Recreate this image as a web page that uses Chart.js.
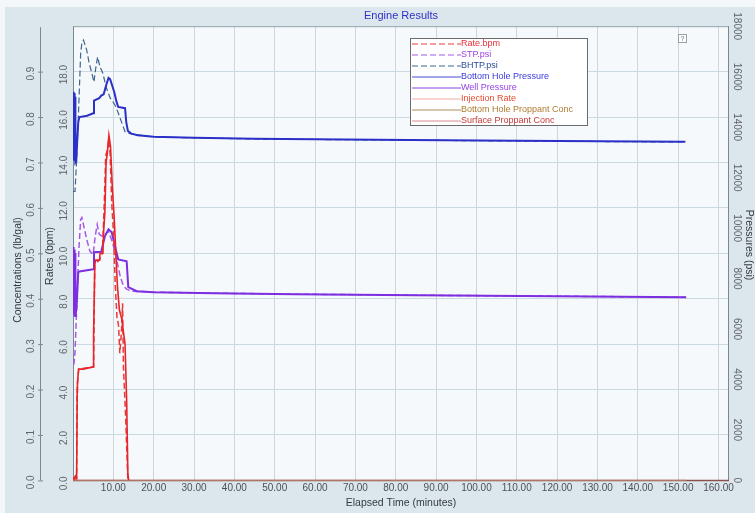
<!DOCTYPE html>
<html>
<head>
<meta charset="utf-8">
<script src="https://cdn.jsdelivr.net/npm/chart.js@4/dist/chart.umd.min.js"></script>
<style>
  html, body { margin: 0; padding: 0; background: #dce6ed; }
  #wrap { position: relative; width: 755px; height: 513px; }
</style>
</head>
<body>
<div id="wrap"><canvas id="c" width="755" height="513"></canvas></div>
<script>
// ---- Job data: elapsed time (minutes) and readings per channel ----
const rateBpmTime = [0, 0.9, 1.0, 1.2, 1.4, 5.1, 5.2, 5.4, 6.5, 7.3, 7.8, 8.1, 8.6, 8.8, 9.2, 9.6, 10.0, 10.5, 10.9, 11.3, 11.6, 12.0, 12.3, 12.5, 13.0, 13.6];
const rateBpm     = [0, 0.1, 3.9, 4.5, 4.9, 5.0, 6.5, 9.5, 9.7, 10.0, 12.5, 14.3, 14.6, 15.0, 14.4, 12.2, 11.0, 8.5, 7.2, 6.8, 5.6, 6.5, 7.8, 5.0, 3.0, 0];

const stpTime = [0, 0.25, 0.5, 0.75, 1.1, 1.5, 1.9, 2.2, 2.7, 3.4, 4.2, 5.0, 5.5, 6.0, 6.5, 7.2, 7.9, 8.8, 9.8, 10.8, 11.7, 12.5, 13.3, 14.5, 20, 35, 55, 85, 120, 151.8];
const stpPsi  = [4620, 4620, 5090, 6120, 7700, 9280, 10340, 10420, 10060, 9550, 9080, 8960, 9670, 10140, 9750, 9680, 9750, 9870, 9430, 8760, 8090, 7700, 7580, 7500, 7460, 7420, 7380, 7340, 7300, 7260];

const bhtpTime = [0, 0.5, 0.9, 1.3, 1.6, 1.9, 2.2, 2.6, 3.0, 3.4, 4.0, 4.6, 5.2, 5.6, 6.1, 6.7, 7.4, 8.2, 9.2, 10.4, 11.2, 12.1, 12.9, 14.1, 20, 45, 110, 151.8];
const bhtpPsi  = [11450, 11450, 12700, 14290, 15590, 16930, 17330, 17450, 17250, 17050, 16540, 16180, 15790, 16300, 16780, 16380, 16140, 15590, 15160, 14880, 14570, 14170, 13820, 13740, 13610, 13530, 13450, 13410];

const bhpTime = [0, 0.1, 0.2, 0.3, 0.4, 0.5, 0.6, 0.8, 1.0, 1.3, 1.6, 3.5, 5.0, 5.2, 6.5, 7.0, 7.6, 8.2, 8.8, 9.2, 9.7, 10.2, 10.8, 11.2, 12.9, 13.2, 13.6, 14.5, 16, 20, 30, 45, 75, 110, 151.8];
const bhpPsi  = [13800, 15400, 12700, 15350, 12650, 15200, 12600, 12650, 13300, 14200, 14400, 14450, 14550, 15050, 15150, 15250, 15300, 15650, 15950, 15900, 15650, 15400, 15000, 14800, 14750, 14200, 13850, 13740, 13680, 13620, 13580, 13540, 13500, 13460, 13420];

const wellTime = [0, 0.1, 0.2, 0.3, 0.4, 0.5, 0.6, 0.9, 1.3, 1.6, 5.0, 5.2, 7.0, 7.9, 8.8, 9.6, 10.4, 11.2, 13.3, 13.7, 15.8, 20, 35, 55, 85, 120, 152];
const wellPsi  = [7000, 9250, 6600, 9150, 6500, 9000, 6480, 6900, 8250, 8280, 8370, 9040, 9060, 9670, 9950, 9830, 9280, 8760, 8680, 7660, 7500, 7460, 7420, 7380, 7340, 7300, 7260];

const injTime = [0, 0.3, 0.6, 0.9, 1.05, 1.1, 1.4, 2.5, 5.0, 5.1, 5.4, 5.6, 6.6, 6.7, 7.4, 7.6, 7.9, 8.2, 8.5, 8.9, 9.3, 9.75, 10.2, 10.7, 11.0, 11.5, 12.1, 12.6, 12.9, 13.3, 13.6, 13.8];
const injRate = [0.1, 0.1, 0.2, 0.1, 3.9, 4.3, 4.9, 4.9, 5.0, 6.4, 9.5, 9.7, 9.7, 10.0, 10.0, 11.0, 11.8, 14.0, 14.4, 15.2, 14.7, 12.9, 11.6, 9.7, 8.6, 7.5, 7.1, 6.4, 6.0, 3.5, 0.3, 0];

const bhConcTime = [0, 152];
const bhConc     = [0, 0];
const surfConcTime = [0, 152];
const surfConc     = [0, 0];

// ---- Axis tick values ----
const timeTicksMax = 162.6;
const concTicks = [0, 0.1, 0.2, 0.3, 0.4, 0.5, 0.6, 0.7, 0.8, 0.9];
const rateTicks = [0, 2, 4, 6, 8, 10, 12, 14, 16, 18];
const psiTicks  = [0, 2000, 4000, 6000, 8000, 10000, 12000, 14000, 16000, 18000];

const NARROW = "'Liberation Sans Narrow', 'Liberation Sans', Arial, sans-serif";
const SANS = "'Liberation Sans', Arial, sans-serif";

function pts(xs, ys) { return xs.map((x, i) => ({ x: x, y: ys[i] })); }

function rotText(ctx, text, x, y, ang) {
  ctx.save();
  ctx.translate(x, y);
  ctx.rotate(ang);
  ctx.textAlign = 'center';
  ctx.textBaseline = 'middle';
  ctx.fillText(text, 0, 0);
  ctx.restore();
}

// Backgrounds, borders, extra axes and the legend box
const frame = {
  id: 'frame',
  beforeDraw(chart) {
    const { ctx, chartArea: a, width, height } = chart;
    ctx.save();
    ctx.fillStyle = '#dce6ed';
    ctx.fillRect(0, 0, width, height);
    ctx.fillStyle = '#f3f7f9';
    ctx.fillRect(0, 0, width, 7);
    ctx.fillRect(0, 0, 5, height);
    ctx.fillStyle = '#f6f9fb';
    ctx.fillRect(a.left, a.top, a.right - a.left, a.bottom - a.top);
    ctx.restore();
  },
  beforeDatasetsDraw(chart) {
    const { ctx, chartArea: a } = chart;
    ctx.save();
    ctx.lineWidth = 1;
    ctx.strokeStyle = '#9ba7af';
    ctx.beginPath(); ctx.moveTo(a.left, a.top + 0.5); ctx.lineTo(a.right, a.top + 0.5); ctx.stroke();
    ctx.strokeStyle = '#7b8891';
    ctx.beginPath(); ctx.moveTo(a.left + 0.5, a.top); ctx.lineTo(a.left + 0.5, a.bottom); ctx.stroke();
    ctx.beginPath(); ctx.moveTo(a.right - 0.5, a.top); ctx.lineTo(a.right - 0.5, a.bottom); ctx.stroke();
    ctx.strokeStyle = '#8a524c';
    ctx.lineWidth = 1.5;
    ctx.beginPath(); ctx.moveTo(a.left, a.bottom); ctx.lineTo(a.right, a.bottom); ctx.stroke();
    ctx.restore();
  },
  afterDraw(chart) {
    const { ctx, chartArea: a, scales } = chart;
    ctx.save();

    // concentration axis line
    ctx.lineWidth = 1;
    ctx.strokeStyle = '#7b8891';
    ctx.beginPath(); ctx.moveTo(40.5, a.top + 1); ctx.lineTo(40.5, a.bottom); ctx.stroke();

    ctx.fillStyle = '#5f6468';
    ctx.font = '10px ' + NARROW;
    const conc = scales.conc, rate = scales.rate, psi = scales.psi;
    concTicks.forEach(v => {
      const y = conc.getPixelForValue(v);
      ctx.beginPath(); ctx.moveTo(38, y + 0.5); ctx.lineTo(43, y + 0.5); ctx.stroke();
      rotText(ctx, v.toFixed(1), 31, y + 2, -Math.PI / 2);
    });
    rateTicks.forEach(v => {
      rotText(ctx, v.toFixed(1), 64, rate.getPixelForValue(v) + 3, -Math.PI / 2);
    });
    psiTicks.forEach(v => {
      rotText(ctx, String(v), 737, psi.getPixelForValue(v), Math.PI / 2);
    });

    // axis titles
    ctx.fillStyle = '#333a40';
    ctx.font = '10.5px ' + SANS;
    rotText(ctx, 'Concentrations (lb/gal)', 18, 270, -Math.PI / 2);
    rotText(ctx, 'Rates (bpm)', 50, 256, -Math.PI / 2);
    rotText(ctx, 'Pressures (psi)', 749, 245, Math.PI / 2);

    // legend
    const lx = 410, ly = 38, lw = 177, lh = 87;
    ctx.fillStyle = '#ffffff';
    ctx.fillRect(lx, ly, lw, lh);
    ctx.strokeStyle = '#6b6b6b';
    ctx.strokeRect(lx + 0.5, ly + 0.5, lw, lh);
    ctx.font = '9px ' + SANS;
    ctx.textAlign = 'left';
    ctx.textBaseline = 'middle';
    chart.data.datasets.forEach((ds, i) => {
      const y = ly + 5.5 + i * 11;
      ctx.strokeStyle = ds.legendLine || ds.borderColor;
      ctx.lineWidth = 1;
      ctx.setLineDash(ds.borderDash || []);
      ctx.beginPath(); ctx.moveTo(lx + 2, y + 0.5); ctx.lineTo(lx + 51, y + 0.5); ctx.stroke();
      ctx.setLineDash([]);
      ctx.fillStyle = ds.legendText;
      ctx.fillText(ds.label, lx + 51, y + 0.5);
    });

    // small options button in the corner
    ctx.fillStyle = '#ffffff';
    ctx.fillRect(678, 34, 8, 8);
    ctx.strokeStyle = '#9aa0a5';
    ctx.strokeRect(678.5, 34.5, 8, 8);
    ctx.fillStyle = '#666';
    ctx.font = '7px ' + SANS;
    ctx.textAlign = 'center';
    ctx.fillText('?', 682.5, 38.8);

    ctx.restore();
  }
};

const line = (label, xs, ys, axis, color, width, dash, extra) => Object.assign({
  label: label,
  data: pts(xs, ys),
  yAxisID: axis,
  borderColor: color,
  borderWidth: width,
  borderDash: dash,
  pointRadius: 0,
  tension: 0,
  fill: false
}, extra);

new Chart(document.getElementById('c'), {
  type: 'line',
  data: {
    datasets: [
      line('Rate.bpm', rateBpmTime, rateBpm, 'rate', '#e83a3a', 1.5, [6, 3], { legendText: '#e8303a', order: 1 }),
      line('STP.psi', stpTime, stpPsi, 'psi', '#a659ea', 1.5, [6, 3], { legendText: '#a040e0', order: 5 }),
      line('BHTP.psi', bhtpTime, bhtpPsi, 'psi', '#3d6590', 1.2, [6, 3], { legendText: '#2d4c98', order: 4 }),
      line('Bottom Hole Pressure', bhpTime, bhpPsi, 'psi', '#2b30c8', 2, [], { legendText: '#3a3ade', legendLine: '#4a4ad8', order: 2 }),
      line('Well Pressure', wellTime, wellPsi, 'psi', '#7d2fe0', 2, [], { legendText: '#9444e8', legendLine: '#8a40e0', order: 3 }),
      line('Injection Rate', injTime, injRate, 'rate', '#e8242a', 1.6, [], { legendText: '#e84a30', legendLine: '#f2aaa2', order: 0 }),
      line('Bottom Hole Proppant Conc', bhConcTime, bhConc, 'conc', '#b08a5a', 1, [], { legendText: '#b07a30', order: 6 }),
      line('Surface Proppant Conc', surfConcTime, surfConc, 'conc', '#d88a90', 1, [], { legendText: '#c83838', order: 7 })
    ]
  },
  options: {
    responsive: false,
    animation: false,
    devicePixelRatio: 1,
    layout: { padding: { left: 73, right: 26, top: 0, bottom: 0 } },
    plugins: {
      legend: { display: false },
      tooltip: { enabled: false },
      title: {
        display: true,
        text: 'Engine Results',
        color: '#3030c8',
        font: { family: SANS, size: 11, weight: 'normal' },
        padding: { top: 9, bottom: 4 }
      }
    },
    scales: {
      x: {
        type: 'linear',
        min: 0,
        max: timeTicksMax,
        ticks: {
          stepSize: 10,
          includeBounds: false,
          autoSkip: false,
          maxRotation: 0,
          padding: 2,
          color: '#4c5156',
          font: { family: NARROW, size: 10 },
          callback: v => (v === 0 ? '' : Number(v).toFixed(2))
        },
        grid: { color: '#cdd6dc', drawTicks: false },
        border: { display: false },
        title: {
          display: true,
          text: 'Elapsed Time (minutes)',
          color: '#333a40',
          font: { family: SANS, size: 10.5 },
          padding: { top: 0, bottom: 4 }
        }
      },
      rate: {
        type: 'linear',
        position: 'left',
        min: 0,
        max: 20,
        ticks: { stepSize: 2, display: false },
        grid: { color: '#cbdae1', drawTicks: false },
        border: { display: false },
        afterFit(s) { s.width = 0; }
      },
      conc: { type: 'linear', position: 'left', display: false, min: 0, max: 1.0 },
      psi: { type: 'linear', position: 'right', display: false, min: 0, max: 18000 }
    }
  },
  plugins: [frame]
});
</script>
</body>
</html>
